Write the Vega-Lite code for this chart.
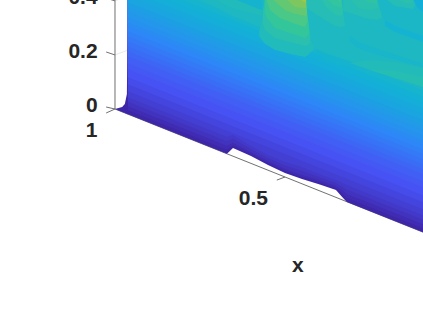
{"$schema":"https://vega.github.io/schema/vega-lite/v6.json","width":423,"height":317,"padding":0,"autosize":"none","background":"white","config":{"view":{"stroke":null}},
"datasets":{"bands":[
{"band":"b00","t":0,"x":0,"h":0,"h2":0},{"band":"b00","t":0,"x":0.021,"h":-0.011,"h2":0.007},{"band":"b00","t":0,"x":0.029,"h":-0.015,"h2":0.0185},{"band":"b00","t":0,"x":0.035,"h":-0.0185,"h2":0.0555},{"band":"b00","t":0,"x":0.038,"h":-0.019,"h2":0.41},{"band":"b00","t":0,"x":0.329,"h":-0.166,"h2":0.41},{"band":"b00","t":0,"x":0.335,"h":-0.159,"h2":0.41},{"band":"b00","t":0,"x":0.347,"h":-0.144,"h2":0.41},{"band":"b00","t":0,"x":0.4,"h":-0.174,"h2":0.41},{"band":"b00","t":0,"x":0.45,"h":-0.207,"h2":0.41},{"band":"b00","t":0,"x":0.5,"h":-0.237,"h2":0.41},{"band":"b00","t":0,"x":0.55,"h":-0.259,"h2":0.41},{"band":"b00","t":0,"x":0.6,"h":-0.278,"h2":0.41},{"band":"b00","t":0,"x":0.65,"h":-0.3,"h2":0.41},{"band":"b00","t":0,"x":0.668,"h":-0.326,"h2":0.41},{"band":"b00","t":0,"x":0.682,"h":-0.344,"h2":0.41},{"band":"b00","t":0,"x":0.95,"h":-0.478,"h2":0.41},
{"band":"b015","t":0.015,"x":0.038,"h":-0.0042,"h2":0.41},{"band":"b015","t":0.015,"x":0.329,"h":-0.151,"h2":0.41},{"band":"b015","t":0.015,"x":0.347,"h":-0.1345,"h2":0.41},{"band":"b015","t":0.015,"x":0.4,"h":-0.1665,"h2":0.41},{"band":"b015","t":0.015,"x":0.45,"h":-0.1995,"h2":0.41},{"band":"b015","t":0.015,"x":0.5,"h":-0.2295,"h2":0.41},{"band":"b015","t":0.015,"x":0.55,"h":-0.2515,"h2":0.41},{"band":"b015","t":0.015,"x":0.6,"h":-0.2705,"h2":0.41},{"band":"b015","t":0.015,"x":0.65,"h":-0.2925,"h2":0.41},{"band":"b015","t":0.015,"x":0.668,"h":-0.313,"h2":0.41},{"band":"b015","t":0.015,"x":0.682,"h":-0.329,"h2":0.41},{"band":"b015","t":0.015,"x":0.95,"h":-0.463,"h2":0.41},
{"band":"b03","t":0.03,"x":0.038,"h":0.0106,"h2":0.41},{"band":"b03","t":0.03,"x":0.329,"h":-0.136,"h2":0.41},{"band":"b03","t":0.03,"x":0.347,"h":-0.125,"h2":0.41},{"band":"b03","t":0.03,"x":0.4,"h":-0.159,"h2":0.41},{"band":"b03","t":0.03,"x":0.45,"h":-0.192,"h2":0.41},{"band":"b03","t":0.03,"x":0.5,"h":-0.222,"h2":0.41},{"band":"b03","t":0.03,"x":0.55,"h":-0.244,"h2":0.41},{"band":"b03","t":0.03,"x":0.6,"h":-0.263,"h2":0.41},{"band":"b03","t":0.03,"x":0.65,"h":-0.285,"h2":0.41},{"band":"b03","t":0.03,"x":0.668,"h":-0.3,"h2":0.41},{"band":"b03","t":0.03,"x":0.682,"h":-0.3145,"h2":0.41},{"band":"b03","t":0.03,"x":0.95,"h":-0.448,"h2":0.41},
{"band":"b045","t":0.045,"x":0.038,"h":0.0272,"h2":0.41},{"band":"b045","t":0.045,"x":0.329,"h":-0.1195,"h2":0.41},{"band":"b045","t":0.045,"x":0.347,"h":-0.1105,"h2":0.41},{"band":"b045","t":0.045,"x":0.4,"h":-0.148,"h2":0.41},{"band":"b045","t":0.045,"x":0.45,"h":-0.181,"h2":0.41},{"band":"b045","t":0.045,"x":0.5,"h":-0.209,"h2":0.41},{"band":"b045","t":0.045,"x":0.55,"h":-0.2295,"h2":0.41},{"band":"b045","t":0.045,"x":0.6,"h":-0.252,"h2":0.41},{"band":"b045","t":0.045,"x":0.65,"h":-0.274,"h2":0.41},{"band":"b045","t":0.045,"x":0.682,"h":-0.298,"h2":0.41},{"band":"b045","t":0.045,"x":0.95,"h":-0.4316,"h2":0.41},
{"band":"b06","t":0.06,"x":0.038,"h":0.0438,"h2":0.41},{"band":"b06","t":0.06,"x":0.329,"h":-0.103,"h2":0.41},{"band":"b06","t":0.06,"x":0.347,"h":-0.096,"h2":0.41},{"band":"b06","t":0.06,"x":0.4,"h":-0.137,"h2":0.41},{"band":"b06","t":0.06,"x":0.45,"h":-0.17,"h2":0.41},{"band":"b06","t":0.06,"x":0.5,"h":-0.196,"h2":0.41},{"band":"b06","t":0.06,"x":0.55,"h":-0.215,"h2":0.41},{"band":"b06","t":0.06,"x":0.6,"h":-0.2405,"h2":0.41},{"band":"b06","t":0.06,"x":0.65,"h":-0.263,"h2":0.41},{"band":"b06","t":0.06,"x":0.682,"h":-0.281,"h2":0.41},{"band":"b06","t":0.06,"x":0.95,"h":-0.4151,"h2":0.41},
{"band":"b075","t":0.075,"x":0.038,"h":0.066,"h2":0.41},{"band":"b075","t":0.075,"x":0.95,"h":-0.393,"h2":0.41},
{"band":"b09","t":0.09,"x":0.038,"h":0.0919,"h2":0.41},{"band":"b09","t":0.09,"x":0.95,"h":-0.367,"h2":0.41},
{"band":"b105","t":0.105,"x":0.038,"h":0.1178,"h2":0.41},{"band":"b105","t":0.105,"x":0.95,"h":-0.3411,"h2":0.41},
{"band":"b12","t":0.12,"x":0.038,"h":0.1474,"h2":0.41},{"band":"b12","t":0.12,"x":0.95,"h":-0.3115,"h2":0.41},
{"band":"b135","t":0.135,"x":0.038,"h":0.1696,"h2":0.41},{"band":"b135","t":0.135,"x":0.95,"h":-0.2893,"h2":0.41},
{"band":"b15","t":0.15,"x":0.038,"h":0.1955,"h2":0.41},{"band":"b15","t":0.15,"x":0.95,"h":-0.2634,"h2":0.41},
{"band":"b165","t":0.165,"x":0.038,"h":0.214,"h2":0.41},{"band":"b165","t":0.165,"x":0.95,"h":-0.2449,"h2":0.41},
{"band":"b18","t":0.18,"x":0.038,"h":0.2325,"h2":0.41},{"band":"b18","t":0.18,"x":0.95,"h":-0.2264,"h2":0.41},
{"band":"b195","t":0.195,"x":0.038,"h":0.251,"h2":0.41},{"band":"b195","t":0.195,"x":0.95,"h":-0.2079,"h2":0.41},
{"band":"b21","t":0.21,"x":0.038,"h":0.2695,"h2":0.41},{"band":"b21","t":0.21,"x":0.95,"h":-0.1894,"h2":0.41},
{"band":"b225","t":0.225,"x":0.038,"h":0.288,"h2":0.41},{"band":"b225","t":0.225,"x":0.95,"h":-0.1709,"h2":0.41},
{"band":"b24","t":0.24,"x":0.038,"h":0.3065,"h2":0.41},{"band":"b24","t":0.24,"x":0.95,"h":-0.1524,"h2":0.41},
{"band":"b255","t":0.255,"x":0.038,"h":0.3213,"h2":0.41},{"band":"b255","t":0.255,"x":0.95,"h":-0.1376,"h2":0.41},
{"band":"b27","t":0.27,"x":0.038,"h":0.3398,"h2":0.41},{"band":"b27","t":0.27,"x":0.95,"h":-0.1191,"h2":0.41},
{"band":"b285","t":0.285,"x":0.038,"h":0.3583,"h2":0.41},{"band":"b285","t":0.285,"x":0.95,"h":-0.1006,"h2":0.41},
{"band":"b30","t":0.3,"x":0.038,"h":0.3768,"h2":0.41},{"band":"b30","t":0.3,"x":0.95,"h":-0.0821,"h2":0.41},
{"band":"b315","t":0.315,"x":0.038,"h":0.3953,"h2":0.41},{"band":"b315","t":0.315,"x":0.95,"h":-0.0636,"h2":0.41},
{"band":"b33","t":0.33,"x":0.053,"h":0.41,"h2":0.41},{"band":"b33","t":0.33,"x":0.95,"h":-0.0414,"h2":0.41},
{"band":"b345","t":0.345,"x":0.097,"h":0.41,"h2":0.41},{"band":"b345","t":0.345,"x":0.95,"h":-0.0192,"h2":0.41},
{"band":"b36","t":0.36,"x":0.141,"h":0.41,"h2":0.41},{"band":"b36","t":0.36,"x":0.95,"h":0.003,"h2":0.41},
{"band":"b375","t":0.375,"x":0.185,"h":0.41,"h2":0.41},{"band":"b375","t":0.375,"x":0.95,"h":0.0252,"h2":0.41},
{"band":"b39","t":0.39,"x":0.229,"h":0.41,"h2":0.41},{"band":"b39","t":0.39,"x":0.95,"h":0.0474,"h2":0.41},
{"band":"w1","t":0.4,"x":0.241,"h":0.41,"h2":0.41},{"band":"w1","t":0.4,"x":0.344,"h":0.345,"h2":0.41},{"band":"w1","t":0.4,"x":0.432,"h":0.3,"h2":0.41},
{"band":"w2","t":0.415,"x":0.285,"h":0.41,"h2":0.41},{"band":"w2","t":0.415,"x":0.344,"h":0.374,"h2":0.41},{"band":"w2","t":0.415,"x":0.432,"h":0.344,"h2":0.366},
{"band":"w3","t":0.37,"x":0.344,"h":0.41,"h2":0.41},{"band":"w3","t":0.37,"x":0.432,"h":0.366,"h2":0.41},
{"band":"a","t":0.4,"x":0.559,"h":0.41,"h2":0.41},{"band":"a","t":0.4,"x":0.568,"h":0.329,"h2":0.41},{"band":"a","t":0.4,"x":0.574,"h":0.266,"h2":0.41},{"band":"a","t":0.4,"x":0.588,"h":0.218,"h2":0.41},{"band":"a","t":0.4,"x":0.609,"h":0.2,"h2":0.41},{"band":"a","t":0.4,"x":0.676,"h":0.174,"h2":0.41},{"band":"a","t":0.4,"x":0.75,"h":0.144,"h2":0.41},{"band":"a","t":0.4,"x":0.824,"h":0.115,"h2":0.41},{"band":"a","t":0.4,"x":0.906,"h":0.081,"h2":0.41},{"band":"a","t":0.4,"x":0.95,"h":0.063,"h2":0.41},
{"band":"d1","t":0.37,"x":0.591,"h":0.215,"h2":0.222},{"band":"d1","t":0.37,"x":0.618,"h":0.181,"h2":0.207},{"band":"d1","t":0.37,"x":0.662,"h":0.163,"h2":0.189},{"band":"d1","t":0.37,"x":0.721,"h":0.152,"h2":0.163},{"band":"d1","t":0.37,"x":0.756,"h":0.141,"h2":0.141},
{"band":"sa","t":0.42,"x":0.691,"h":0.17,"h2":0.17},{"band":"sa","t":0.42,"x":0.75,"h":0.144,"h2":0.181},{"band":"sa","t":0.42,"x":0.824,"h":0.115,"h2":0.174},{"band":"sa","t":0.42,"x":0.906,"h":0.081,"h2":0.152},{"band":"sa","t":0.42,"x":0.95,"h":0.063,"h2":0.133},
{"band":"sb","t":0.435,"x":0.75,"h":0.144,"h2":0.144},{"band":"sb","t":0.435,"x":0.824,"h":0.115,"h2":0.141},{"band":"sb","t":0.435,"x":0.906,"h":0.081,"h2":0.118},{"band":"sb","t":0.435,"x":0.95,"h":0.063,"h2":0.1},
{"band":"d2","t":0.38,"x":0.691,"h":0.252,"h2":0.27},{"band":"d2","t":0.38,"x":0.715,"h":0.226,"h2":0.248},{"band":"d2","t":0.38,"x":0.779,"h":0.2,"h2":0.218},{"band":"d2","t":0.38,"x":0.853,"h":0.174,"h2":0.189},{"band":"d2","t":0.38,"x":0.906,"h":0.155,"h2":0.167},{"band":"d2","t":0.38,"x":0.95,"h":0.137,"h2":0.148},
{"band":"r2a","t":0.43,"x":0.564,"h":0.374,"h2":0.41},{"band":"r2a","t":0.43,"x":0.588,"h":0.352,"h2":0.41},{"band":"r2a","t":0.43,"x":0.618,"h":0.329,"h2":0.41},{"band":"r2a","t":0.43,"x":0.647,"h":0.307,"h2":0.41},{"band":"r2a","t":0.43,"x":0.665,"h":0.303,"h2":0.41},{"band":"r2a","t":0.43,"x":0.676,"h":0.307,"h2":0.318},
{"band":"r2b","t":0.455,"x":0.603,"h":0.41,"h2":0.41},{"band":"r2b","t":0.455,"x":0.626,"h":0.37,"h2":0.41},{"band":"r2b","t":0.455,"x":0.65,"h":0.348,"h2":0.41},{"band":"r2b","t":0.455,"x":0.665,"h":0.344,"h2":0.41},{"band":"r2b","t":0.455,"x":0.671,"h":0.355,"h2":0.359},
{"band":"r2c","t":0.48,"x":0.621,"h":0.41,"h2":0.41},{"band":"r2c","t":0.48,"x":0.641,"h":0.385,"h2":0.41},{"band":"r2c","t":0.48,"x":0.665,"h":0.374,"h2":0.41},{"band":"r2c","t":0.48,"x":0.668,"h":0.381,"h2":0.381},
{"band":"r2d","t":0.51,"x":0.647,"h":0.41,"h2":0.41},{"band":"r2d","t":0.51,"x":0.665,"h":0.396,"h2":0.41},
{"band":"r3a","t":0.43,"x":0.671,"h":0.363,"h2":0.41},{"band":"r3a","t":0.43,"x":0.697,"h":0.352,"h2":0.41},{"band":"r3a","t":0.43,"x":0.735,"h":0.337,"h2":0.41},{"band":"r3a","t":0.43,"x":0.771,"h":0.329,"h2":0.41},{"band":"r3a","t":0.43,"x":0.785,"h":0.337,"h2":0.348},
{"band":"r3b","t":0.45,"x":0.691,"h":0.41,"h2":0.41},{"band":"r3b","t":0.45,"x":0.715,"h":0.374,"h2":0.41},{"band":"r3b","t":0.45,"x":0.75,"h":0.366,"h2":0.41},{"band":"r3b","t":0.45,"x":0.774,"h":0.374,"h2":0.392},
{"band":"r3c","t":0.47,"x":0.726,"h":0.41,"h2":0.41},{"band":"r3c","t":0.47,"x":0.75,"h":0.392,"h2":0.41},{"band":"r3c","t":0.47,"x":0.771,"h":0.392,"h2":0.41},
{"band":"r4a","t":0.39,"x":0.771,"h":0.41,"h2":0.41},{"band":"r4a","t":0.39,"x":0.785,"h":0.348,"h2":0.41},{"band":"r4a","t":0.39,"x":0.8,"h":0.318,"h2":0.41},{"band":"r4a","t":0.39,"x":0.824,"h":0.3,"h2":0.41},{"band":"r4a","t":0.39,"x":0.906,"h":0.263,"h2":0.41},{"band":"r4a","t":0.39,"x":0.95,"h":0.248,"h2":0.41},
{"band":"r4d","t":0.365,"x":0.794,"h":0.307,"h2":0.329},{"band":"r4d","t":0.365,"x":0.824,"h":0.285,"h2":0.307},{"band":"r4d","t":0.365,"x":0.906,"h":0.248,"h2":0.27},{"band":"r4d","t":0.365,"x":0.95,"h":0.233,"h2":0.255},
{"band":"r4b","t":0.43,"x":0.794,"h":0.41,"h2":0.41},{"band":"r4b","t":0.43,"x":0.824,"h":0.381,"h2":0.41},{"band":"r4b","t":0.43,"x":0.876,"h":0.37,"h2":0.41},{"band":"r4b","t":0.43,"x":0.882,"h":0.381,"h2":0.392},
{"band":"r4c","t":0.45,"x":0.824,"h":0.41,"h2":0.41},{"band":"r4c","t":0.45,"x":0.853,"h":0.392,"h2":0.41},{"band":"r4c","t":0.45,"x":0.876,"h":0.392,"h2":0.41},
{"band":"r5","t":0.35,"x":0.876,"h":0.41,"h2":0.41},{"band":"r5","t":0.35,"x":0.888,"h":0.377,"h2":0.41},{"band":"r5","t":0.35,"x":0.906,"h":0.359,"h2":0.41},{"band":"r5","t":0.35,"x":0.95,"h":0.344,"h2":0.41},
{"band":"r1a","t":0.415,"x":0.424,"h":0.27,"h2":0.285},{"band":"r1a","t":0.415,"x":0.432,"h":0.255,"h2":0.337},{"band":"r1a","t":0.415,"x":0.441,"h":0.241,"h2":0.41},{"band":"r1a","t":0.415,"x":0.471,"h":0.218,"h2":0.41},{"band":"r1a","t":0.415,"x":0.515,"h":0.204,"h2":0.41},{"band":"r1a","t":0.415,"x":0.559,"h":0.192,"h2":0.41},{"band":"r1a","t":0.415,"x":0.568,"h":0.2,"h2":0.329},{"band":"r1a","t":0.415,"x":0.576,"h":0.211,"h2":0.255},{"band":"r1a","t":0.415,"x":0.585,"h":0.218,"h2":0.233},
{"band":"r1b","t":0.45,"x":0.435,"h":0.315,"h2":0.359},{"band":"r1b","t":0.45,"x":0.441,"h":0.292,"h2":0.41},{"band":"r1b","t":0.45,"x":0.471,"h":0.263,"h2":0.41},{"band":"r1b","t":0.45,"x":0.515,"h":0.248,"h2":0.41},{"band":"r1b","t":0.45,"x":0.559,"h":0.233,"h2":0.41},{"band":"r1b","t":0.45,"x":0.568,"h":0.237,"h2":0.329},{"band":"r1b","t":0.45,"x":0.574,"h":0.244,"h2":0.274},
{"band":"r1c","t":0.49,"x":0.441,"h":0.359,"h2":0.41},{"band":"r1c","t":0.49,"x":0.447,"h":0.337,"h2":0.41},{"band":"r1c","t":0.49,"x":0.471,"h":0.3,"h2":0.41},{"band":"r1c","t":0.49,"x":0.515,"h":0.281,"h2":0.41},{"band":"r1c","t":0.49,"x":0.559,"h":0.263,"h2":0.41},{"band":"r1c","t":0.49,"x":0.568,"h":0.274,"h2":0.329},{"band":"r1c","t":0.49,"x":0.571,"h":0.285,"h2":0.292},
{"band":"r1d","t":0.53,"x":0.444,"h":0.41,"h2":0.41},{"band":"r1d","t":0.53,"x":0.456,"h":0.366,"h2":0.41},{"band":"r1d","t":0.53,"x":0.485,"h":0.337,"h2":0.41},{"band":"r1d","t":0.53,"x":0.529,"h":0.315,"h2":0.41},{"band":"r1d","t":0.53,"x":0.559,"h":0.303,"h2":0.41},{"band":"r1d","t":0.53,"x":0.566,"h":0.322,"h2":0.337},
{"band":"r1e","t":0.57,"x":0.46,"h":0.41,"h2":0.41},{"band":"r1e","t":0.57,"x":0.5,"h":0.366,"h2":0.41},{"band":"r1e","t":0.57,"x":0.529,"h":0.352,"h2":0.41},{"band":"r1e","t":0.57,"x":0.562,"h":0.344,"h2":0.41},{"band":"r1e","t":0.57,"x":0.565,"h":0.352,"h2":0.359},
{"band":"r1f","t":0.61,"x":0.503,"h":0.41,"h2":0.41},{"band":"r1f","t":0.61,"x":0.529,"h":0.377,"h2":0.41},{"band":"r1f","t":0.61,"x":0.562,"h":0.374,"h2":0.41},
{"band":"r1g","t":0.66,"x":0.538,"h":0.41,"h2":0.41},{"band":"r1g","t":0.66,"x":0.562,"h":0.392,"h2":0.41}
],
"axes":[{"x":0,"h":0,"x2":0,"h2":0.41},{"x":0,"h":0,"x2":0.95,"h2":-0.478},{"x":0,"h":0,"x2":-0.026,"h2":0.0074},{"x":0,"h":0,"x2":-0.026,"h2":-0.0148},{"x":0,"h":0.2,"x2":-0.026,"h2":0.211},{"x":0,"h":0.4,"x2":-0.026,"h2":0.41},{"x":0.5,"h":-0.2516,"x2":0.476,"h2":-0.263}],
"grid":[{"x":0,"h":0.2,"x2":0.038,"h2":0.218},{"x":0,"h":0.4,"x2":0.038,"h2":0.418}],
"labels":[{"x":-0.094,"h":0.3885,"label":"0.4"},{"x":-0.094,"h":0.189,"label":"0.2"},{"x":-0.068,"h":-0.011,"label":"0"},{"x":-0.069,"h":-0.1036,"label":"1"},{"x":0.407,"h":-0.355,"label":"0.5"},{"x":0.538,"h":-0.603,"label":"x"}]},
"layer":[
{"data":{"name":"grid"},"mark":{"type":"rule","color":"#e3e3e3","strokeWidth":0.8},"encoding":{"x":{"field":"x","type":"quantitative","axis":null,"scale":{"domain":[-0.3382,0.9059],"nice":false,"zero":false}},"y":{"field":"h","type":"quantitative","axis":null,"scale":{"domain":[-0.7696,0.4033],"nice":false,"zero":false}},"x2":{"field":"x2"},"y2":{"field":"h2"}}},
{"data":{"name":"axes"},"mark":{"type":"rule","color":"#707070","strokeWidth":1},"encoding":{"x":{"field":"x","type":"quantitative"},"y":{"field":"h","type":"quantitative"},"x2":{"field":"x2"},"y2":{"field":"h2"}}},
{"data":{"name":"bands"},"mark":{"type":"area","clip":true},"encoding":{"x":{"field":"x","type":"quantitative"},"y":{"field":"h","type":"quantitative"},"y2":{"field":"h2"},"detail":{"field":"band"},"color":{"field":"t","type":"quantitative","legend":null,"scale":{"interpolate":"rgb","domain":[0,0.105,0.225,0.355,0.5,0.68,0.85,1],"range":["#3e26a8","#4752f4","#2d87f7","#12b1d6","#37c897","#abc739","#fec338","#f9fb15"]}}}},
{"data":{"name":"labels"},"mark":{"type":"text","font":"Liberation Sans","fontWeight":"bold","fontSize":21,"align":"center","baseline":"alphabetic","color":"#262626"},"encoding":{"x":{"field":"x","type":"quantitative"},"y":{"field":"h","type":"quantitative"},"text":{"field":"label"}}}
]}
